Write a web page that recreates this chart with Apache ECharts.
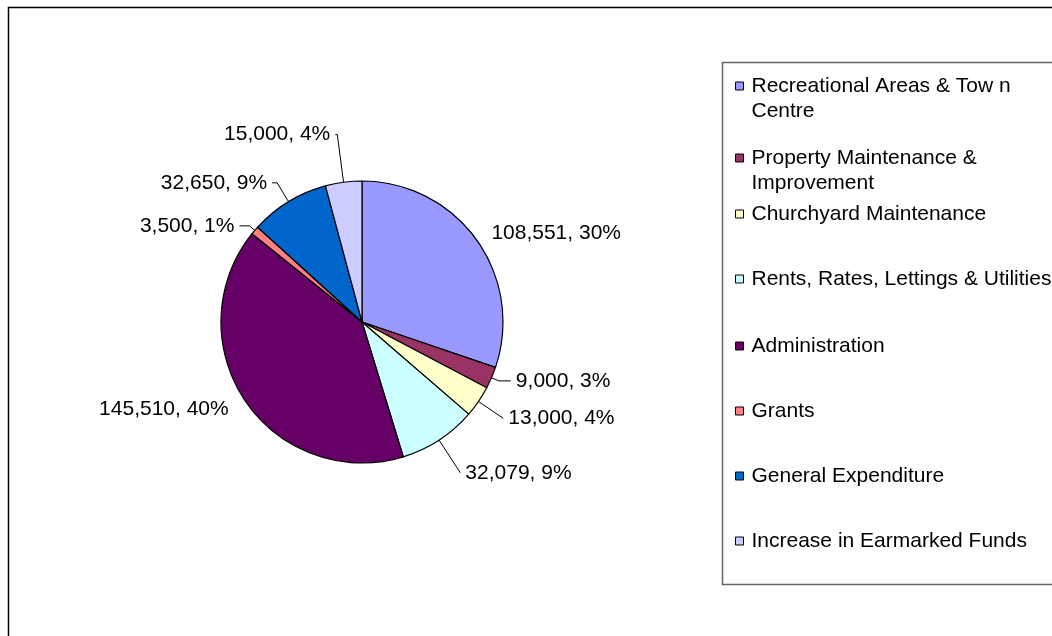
<!DOCTYPE html>
<html>
<head>
<meta charset="UTF-8">
<title>Expenditure</title>
<script src="https://cdn.jsdelivr.net/npm/echarts@6/dist/echarts.min.js"></script>
<style>
  html, body { margin: 0; padding: 0; background: #fff; }
  #main { width: 1052px; height: 636px; }
</style>
</head>
<body>
<div id="main"></div>
<script type="text/javascript">
  var names = ['Recreational Areas & Tow n Centre', 'Property Maintenance & Improvement', 'Churchyard Maintenance',
               'Rents, Rates, Lettings & Utilities', 'Administration', 'Grants', 'General Expenditure',
               'Increase in Earmarked Funds'];
  var values = [108551, 9000, 13000, 32079, 145510, 3500, 32650, 15000];
  var colors = ['#9999FF', '#993366', '#FFFFCC', '#CCFFFF', '#660066', '#FF8080', '#0066CC', '#CCCCFF'];
  // legend text as it wraps in the box
  var legendText = ['Recreational Areas & Tow n\nCentre', 'Property Maintenance &\nImprovement', 'Churchyard Maintenance',
                    'Rents, Rates, Lettings & Utilities', 'Administration', 'Grants', 'General Expenditure',
                    'Increase in Earmarked Funds'];
  var legendLineY = [81, 153, 209, 274, 341, 406, 471, 536];

  var total = values.reduce(function (a, b) { return a + b; }, 0);
  var font = 'Liberation Sans, Arial, sans-serif';

  // leader line lengths per slice [radial, horizontal, visible]
  var leaders = [[12, 0, false], [8, 12, true], [30, 0, true], [39, 0, true],
                 [14, 0, false], [7, 10, true], [22, 5, true], [48, 2, true]];

  var chart = echarts.init(document.getElementById('main'));

  var pieData = values.map(function (v, i) {
    return {
      name: names[i], value: v,
      itemStyle: { color: colors[i] },
      labelLine: { show: leaders[i][2], length: leaders[i][0], length2: leaders[i][1] }
    };
  });

  var legends = names.map(function (n, i) {
    var twoLine = legendText[i].indexOf('\n') >= 0;
    return {
      orient: 'vertical',
      left: 730,
      top: twoLine ? legendLineY[i] - 37.5 : legendLineY[i] - 12.5,
      itemWidth: 8,
      itemHeight: 8,
      itemGap: 0,
      icon: 'rect',
      selectedMode: false,
      itemStyle: { borderColor: '#000', borderWidth: 1 },
      data: [n],
      formatter: function () { return twoLine ? ' \n' + legendText[i] : legendText[i]; },
      textStyle: { fontFamily: font, fontSize: 21, color: '#000', lineHeight: 25, padding: [0, 0, 0, 3] }
    };
  });

  var option = {
    animation: false,
    backgroundColor: '#fff',
    graphic: [
      { type: 'rect', shape: { x: 8.5, y: 7.5, width: 1100, height: 700 },
        style: { fill: null, stroke: '#000', lineWidth: 1.5 } },
      { type: 'rect', shape: { x: 722.5, y: 62.5, width: 400, height: 522 },
        style: { fill: null, stroke: '#666', lineWidth: 1.5 } }
    ],
    legend: legends,
    series: [
      {
        type: 'pie',
        center: [362, 322],
        radius: [0, 141],
        startAngle: 90,
        clockwise: true,
        avoidLabelOverlap: false,
        itemStyle: { borderColor: '#000', borderWidth: 1.2 },
        label: {
          show: true,
          position: 'outside',
          fontFamily: font,
          fontSize: 21,
          color: '#000',
          formatter: function (p) {
            return p.value.toLocaleString('en-US') + ', ' + Math.round(p.value / total * 100) + '%';
          }
        },
        labelLine: { lineStyle: { color: '#000', width: 1 } },
        emphasis: { disabled: true },
        data: pieData
      }
    ]
  };
  chart.setOption(option);
</script>
</body>
</html>
